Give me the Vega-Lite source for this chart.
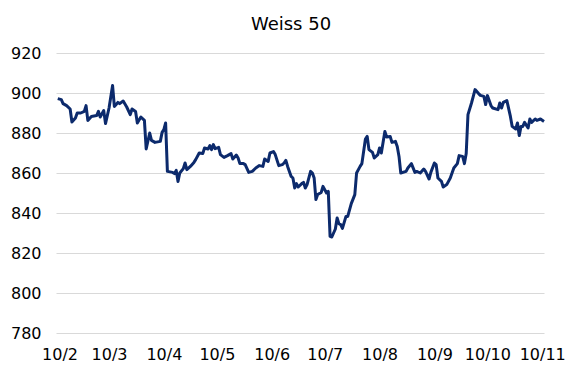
{
  "$schema": "https://vega.github.io/schema/vega-lite/v6.json",
  "autosize": "none",
  "width": 488,
  "height": 280,
  "padding": {"left": 56, "top": 53, "right": 41, "bottom": 43},
  "background": "white",
  "title": {"text": "Weiss 50", "font": "DejaVu Sans", "fontSize": 18, "fontWeight": "normal", "color": "#000000", "offset": 11, "dx": -9},
  "config": {"view": {"stroke": null}},
  "data": {"values": [
    {"date": "2010-01-31", "value": 897.2},
    {"date": "2010-02-02", "value": 896.7},
    {"date": "2010-02-03", "value": 894.7},
    {"date": "2010-02-05", "value": 893.7},
    {"date": "2010-02-07", "value": 892.0},
    {"date": "2010-02-08", "value": 885.5},
    {"date": "2010-02-10", "value": 887.5},
    {"date": "2010-02-11", "value": 890.0},
    {"date": "2010-02-13", "value": 890.0},
    {"date": "2010-02-15", "value": 890.8},
    {"date": "2010-02-16", "value": 893.7},
    {"date": "2010-02-17", "value": 886.3},
    {"date": "2010-02-19", "value": 888.3},
    {"date": "2010-02-22", "value": 888.7},
    {"date": "2010-02-23", "value": 890.8},
    {"date": "2010-02-24", "value": 888.0},
    {"date": "2010-02-26", "value": 891.2},
    {"date": "2010-02-27", "value": 884.7},
    {"date": "2010-03-01", "value": 892.5},
    {"date": "2010-03-03", "value": 903.7},
    {"date": "2010-03-04", "value": 893.3},
    {"date": "2010-03-06", "value": 895.3},
    {"date": "2010-03-07", "value": 894.7},
    {"date": "2010-03-09", "value": 896.0},
    {"date": "2010-03-11", "value": 893.0},
    {"date": "2010-03-13", "value": 889.2},
    {"date": "2010-03-14", "value": 892.0},
    {"date": "2010-03-16", "value": 890.8},
    {"date": "2010-03-17", "value": 885.0},
    {"date": "2010-03-19", "value": 888.0},
    {"date": "2010-03-21", "value": 886.3},
    {"date": "2010-03-22", "value": 872.0},
    {"date": "2010-03-24", "value": 880.0},
    {"date": "2010-03-25", "value": 876.3},
    {"date": "2010-03-27", "value": 875.3},
    {"date": "2010-03-30", "value": 875.8},
    {"date": "2010-03-31", "value": 880.3},
    {"date": "2010-04-01", "value": 881.7},
    {"date": "2010-04-02", "value": 885.0},
    {"date": "2010-04-03", "value": 860.8},
    {"date": "2010-04-06", "value": 860.3},
    {"date": "2010-04-07", "value": 859.7},
    {"date": "2010-04-08", "value": 861.3},
    {"date": "2010-04-09", "value": 855.8},
    {"date": "2010-04-10", "value": 860.0},
    {"date": "2010-04-12", "value": 862.2},
    {"date": "2010-04-13", "value": 865.0},
    {"date": "2010-04-14", "value": 861.7},
    {"date": "2010-04-16", "value": 863.3},
    {"date": "2010-04-18", "value": 865.3},
    {"date": "2010-04-19", "value": 866.7},
    {"date": "2010-04-21", "value": 870.0},
    {"date": "2010-04-23", "value": 869.7},
    {"date": "2010-04-24", "value": 872.5},
    {"date": "2010-04-26", "value": 872.0},
    {"date": "2010-04-27", "value": 873.7},
    {"date": "2010-04-28", "value": 871.7},
    {"date": "2010-04-29", "value": 874.2},
    {"date": "2010-04-30", "value": 872.2},
    {"date": "2010-05-02", "value": 872.8},
    {"date": "2010-05-03", "value": 869.2},
    {"date": "2010-05-05", "value": 867.8},
    {"date": "2010-05-07", "value": 868.7},
    {"date": "2010-05-09", "value": 869.7},
    {"date": "2010-05-10", "value": 867.0},
    {"date": "2010-05-12", "value": 869.0},
    {"date": "2010-05-13", "value": 867.5},
    {"date": "2010-05-14", "value": 864.7},
    {"date": "2010-05-16", "value": 864.7},
    {"date": "2010-05-17", "value": 864.2},
    {"date": "2010-05-19", "value": 860.3},
    {"date": "2010-05-21", "value": 860.8},
    {"date": "2010-05-23", "value": 862.5},
    {"date": "2010-05-25", "value": 863.7},
    {"date": "2010-05-27", "value": 863.3},
    {"date": "2010-05-28", "value": 867.0},
    {"date": "2010-05-30", "value": 865.8},
    {"date": "2010-05-31", "value": 870.0},
    {"date": "2010-06-02", "value": 870.7},
    {"date": "2010-06-03", "value": 869.2},
    {"date": "2010-06-05", "value": 863.7},
    {"date": "2010-06-07", "value": 864.2},
    {"date": "2010-06-08", "value": 865.0},
    {"date": "2010-06-09", "value": 866.3},
    {"date": "2010-06-10", "value": 863.3},
    {"date": "2010-06-12", "value": 858.3},
    {"date": "2010-06-13", "value": 857.5},
    {"date": "2010-06-14", "value": 852.5},
    {"date": "2010-06-15", "value": 854.7},
    {"date": "2010-06-16", "value": 853.0},
    {"date": "2010-06-18", "value": 854.7},
    {"date": "2010-06-19", "value": 855.3},
    {"date": "2010-06-20", "value": 852.5},
    {"date": "2010-06-21", "value": 854.2},
    {"date": "2010-06-23", "value": 860.8},
    {"date": "2010-06-24", "value": 860.0},
    {"date": "2010-06-25", "value": 857.5},
    {"date": "2010-06-26", "value": 846.7},
    {"date": "2010-06-27", "value": 849.2},
    {"date": "2010-06-29", "value": 850.3},
    {"date": "2010-06-30", "value": 853.3},
    {"date": "2010-07-02", "value": 850.0},
    {"date": "2010-07-03", "value": 850.8},
    {"date": "2010-07-04", "value": 828.3},
    {"date": "2010-07-05", "value": 828.0},
    {"date": "2010-07-07", "value": 832.0},
    {"date": "2010-07-08", "value": 837.5},
    {"date": "2010-07-09", "value": 834.7},
    {"date": "2010-07-10", "value": 834.2},
    {"date": "2010-07-11", "value": 832.3},
    {"date": "2010-07-13", "value": 838.3},
    {"date": "2010-07-14", "value": 838.3},
    {"date": "2010-07-16", "value": 844.7},
    {"date": "2010-07-18", "value": 849.2},
    {"date": "2010-07-19", "value": 860.0},
    {"date": "2010-07-21", "value": 863.3},
    {"date": "2010-07-22", "value": 864.7},
    {"date": "2010-07-24", "value": 877.0},
    {"date": "2010-07-25", "value": 878.3},
    {"date": "2010-07-26", "value": 871.7},
    {"date": "2010-07-28", "value": 870.3},
    {"date": "2010-07-29", "value": 867.5},
    {"date": "2010-07-31", "value": 869.2},
    {"date": "2010-08-01", "value": 872.5},
    {"date": "2010-08-02", "value": 870.0},
    {"date": "2010-08-04", "value": 880.8},
    {"date": "2010-08-05", "value": 878.0},
    {"date": "2010-08-07", "value": 878.3},
    {"date": "2010-08-08", "value": 875.3},
    {"date": "2010-08-10", "value": 875.8},
    {"date": "2010-08-11", "value": 873.3},
    {"date": "2010-08-12", "value": 868.3},
    {"date": "2010-08-13", "value": 860.0},
    {"date": "2010-08-16", "value": 860.8},
    {"date": "2010-08-17", "value": 862.5},
    {"date": "2010-08-19", "value": 864.7},
    {"date": "2010-08-21", "value": 860.3},
    {"date": "2010-08-22", "value": 860.8},
    {"date": "2010-08-24", "value": 860.0},
    {"date": "2010-08-26", "value": 862.0},
    {"date": "2010-08-27", "value": 860.8},
    {"date": "2010-08-29", "value": 857.0},
    {"date": "2010-08-30", "value": 860.3},
    {"date": "2010-09-01", "value": 865.0},
    {"date": "2010-09-02", "value": 864.2},
    {"date": "2010-09-03", "value": 857.5},
    {"date": "2010-09-05", "value": 855.8},
    {"date": "2010-09-06", "value": 853.0},
    {"date": "2010-09-08", "value": 854.2},
    {"date": "2010-09-10", "value": 857.5},
    {"date": "2010-09-12", "value": 862.5},
    {"date": "2010-09-14", "value": 864.7},
    {"date": "2010-09-15", "value": 868.7},
    {"date": "2010-09-17", "value": 868.3},
    {"date": "2010-09-18", "value": 864.7},
    {"date": "2010-09-19", "value": 869.7},
    {"date": "2010-09-20", "value": 889.2},
    {"date": "2010-09-22", "value": 895.0},
    {"date": "2010-09-23", "value": 898.3},
    {"date": "2010-09-24", "value": 901.7},
    {"date": "2010-09-26", "value": 899.7},
    {"date": "2010-09-27", "value": 898.8},
    {"date": "2010-09-29", "value": 898.3},
    {"date": "2010-09-30", "value": 894.2},
    {"date": "2010-10-01", "value": 898.7},
    {"date": "2010-10-03", "value": 893.7},
    {"date": "2010-10-04", "value": 892.5},
    {"date": "2010-10-07", "value": 891.7},
    {"date": "2010-10-08", "value": 895.0},
    {"date": "2010-10-09", "value": 892.5},
    {"date": "2010-10-10", "value": 895.3},
    {"date": "2010-10-12", "value": 896.2},
    {"date": "2010-10-14", "value": 888.3},
    {"date": "2010-10-15", "value": 883.3},
    {"date": "2010-10-17", "value": 882.0},
    {"date": "2010-10-18", "value": 885.0},
    {"date": "2010-10-19", "value": 878.7},
    {"date": "2010-10-20", "value": 883.3},
    {"date": "2010-10-21", "value": 883.3},
    {"date": "2010-10-22", "value": 885.3},
    {"date": "2010-10-24", "value": 882.5},
    {"date": "2010-10-25", "value": 887.0},
    {"date": "2010-10-26", "value": 885.3},
    {"date": "2010-10-28", "value": 887.0},
    {"date": "2010-10-29", "value": 886.3},
    {"date": "2010-10-31", "value": 887.0},
    {"date": "2010-11-02", "value": 885.8}
  ]},
  "mark": {"type": "line", "color": "#0c2a6c", "strokeWidth": 3, "strokeJoin": "round"},
  "encoding": {
    "x": {
      "field": "date",
      "type": "temporal",
      "scale": {"type": "utc", "domain": ["2010-01-30", "2010-11-02"]},
      "axis": {
        "title": null,
        "labelExpr": "utcFormat(datum.value, '%y/%-m')",
        "tickCount": {"interval": "month", "step": 1},
        "grid": false,
        "domain": false,
        "ticks": false,
        "labelFont": "DejaVu Sans",
        "labelFontSize": 16,
        "labelColor": "#000000",
        "labelPadding": 13,
        "labelOverlap": false,
        "labelFlush": false
      }
    },
    "y": {
      "field": "value",
      "type": "quantitative",
      "scale": {"domain": [780, 920], "zero": false, "nice": false},
      "axis": {
        "title": null,
        "values": [780, 800, 820, 840, 860, 880, 900, 920],
        "grid": true,
        "gridColor": "#d9d9d9",
        "gridWidth": 1,
        "domain": false,
        "ticks": false,
        "labelFont": "DejaVu Sans",
        "labelFontSize": 16,
        "labelColor": "#000000",
        "labelPadding": 15
      }
    }
  }
}
